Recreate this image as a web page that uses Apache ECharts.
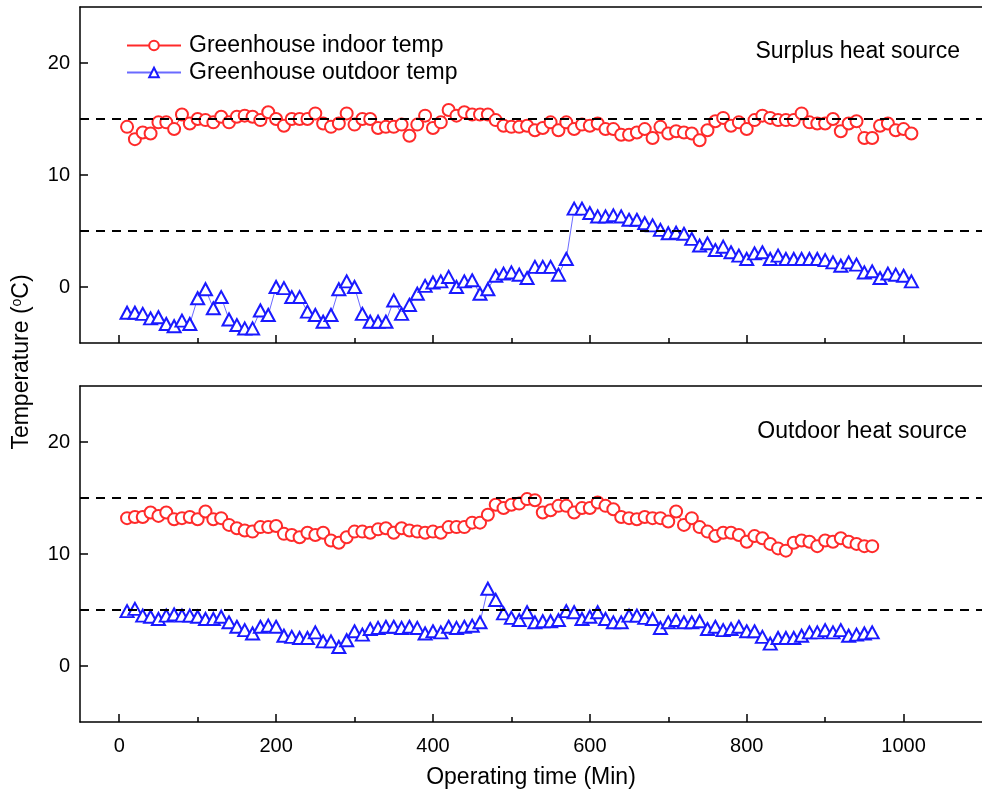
<!DOCTYPE html>
<html>
<head>
<meta charset="utf-8">
<script src="https://cdn.jsdelivr.net/npm/echarts@6/dist/echarts.min.js"></script>
<style>
  html, body { margin: 0; padding: 0; background: #fff; }
  #chart { width: 982px; height: 794px; }
</style>
</head>
<body>
<div id="chart"></div>
<script>
// operating time (min), one reading every 10 min
const timeMin = [
  10, 20, 30, 40, 50, 60, 70, 80, 90, 100, 110, 120, 130, 140, 150, 160, 170, 180, 190, 200,
  210, 220, 230, 240, 250, 260, 270, 280, 290, 300, 310, 320, 330, 340, 350, 360, 370, 380, 390, 400,
  410, 420, 430, 440, 450, 460, 470, 480, 490, 500, 510, 520, 530, 540, 550, 560, 570, 580, 590, 600,
  610, 620, 630, 640, 650, 660, 670, 680, 690, 700, 710, 720, 730, 740, 750, 760, 770, 780, 790, 800,
  810, 820, 830, 840, 850, 860, 870, 880, 890, 900, 910, 920, 930, 940, 950, 960, 970, 980, 990, 1000, 1010
]

// Surplus heat source panel
const surplusIndoor = [
  14.3, 13.2, 13.8, 13.7, 14.7, 14.7, 14.1, 15.4, 14.6, 15.0, 14.9, 14.7, 15.2, 14.7, 15.2, 15.3, 15.2, 14.9, 15.6, 15.0,
  14.4, 15.0, 15.0, 15.0, 15.5, 14.6, 14.3, 14.6, 15.5, 14.5, 15.0, 15.0, 14.2, 14.3, 14.3, 14.5, 13.5, 14.5, 15.3, 14.2,
  14.7, 15.8, 15.3, 15.6, 15.4, 15.4, 15.4, 14.9, 14.4, 14.3, 14.3, 14.4, 14.0, 14.2, 14.7, 14.0, 14.7, 14.1, 14.5, 14.4,
  14.6, 14.1, 14.1, 13.6, 13.6, 13.8, 14.1, 13.3, 14.3, 13.7, 13.9, 13.8, 13.7, 13.1, 14.0, 14.8, 15.1, 14.4, 14.7, 14.1,
  14.9, 15.3, 15.1, 14.9, 14.9, 14.9, 15.5, 14.7, 14.6, 14.6, 15.0, 13.9, 14.6, 14.8, 13.3, 13.3, 14.4, 14.6, 14.0, 14.1, 13.7
]
const surplusOutdoor = [
  -2.3, -2.3, -2.4, -2.8, -2.7, -3.3, -3.5, -3.0, -3.3, -1.0, -0.2, -1.9, -0.9, -2.9, -3.4, -3.7, -3.7, -2.1, -2.5, 0.0,
  -0.1, -0.9, -0.9, -2.2, -2.5, -3.1, -2.5, -0.2, 0.5, 0.0, -2.4, -3.1, -3.1, -3.1, -1.2, -2.4, -1.6, -0.6, 0.1, 0.4,
  0.5, 0.9, 0.0, 0.5, 0.6, -0.6, -0.2, 1.0, 1.2, 1.3, 1.1, 0.8, 1.8, 1.8, 1.8, 1.1, 2.5, 7.0, 7.0, 6.6,
  6.3, 6.3, 6.4, 6.3, 6.0, 6.0, 5.7, 5.5, 5.1, 4.8, 4.85, 4.75, 4.3, 3.7, 3.9, 3.3, 3.6, 3.1, 2.8, 2.5,
  3.0, 3.1, 2.5, 2.8, 2.5, 2.5, 2.5, 2.5, 2.5, 2.4, 2.2, 1.9, 2.2, 2.0, 1.3, 1.4, 0.8, 1.2, 1.1, 1.0, 0.5
]

// Outdoor heat source panel (10 .. 960 min)
const outdoorIndoor = [
  13.2, 13.3, 13.3, 13.7, 13.4, 13.7, 13.1, 13.2, 13.3, 13.1, 13.8, 13.1, 13.2, 12.6, 12.3, 12.1, 12.0, 12.4, 12.4, 12.5,
  11.8, 11.7, 11.5, 11.9, 11.7, 11.9, 11.2, 11.0, 11.5, 12.0, 12.0, 11.9, 12.2, 12.3, 11.9, 12.3, 12.1, 12.0, 11.9, 12.0,
  11.9, 12.4, 12.4, 12.4, 12.8, 12.8, 13.5, 14.4, 14.1, 14.4, 14.5, 14.9, 14.8, 13.7, 13.9, 14.3, 14.3, 13.7, 14.1, 14.1,
  14.6, 14.3, 14.0, 13.3, 13.2, 13.1, 13.3, 13.2, 13.2, 12.9, 13.8, 12.6, 13.2, 12.4, 12.0, 11.6, 11.9, 11.9, 11.7, 11.1,
  11.6, 11.4, 10.9, 10.5, 10.3, 11.0, 11.2, 11.1, 10.7, 11.2, 11.1, 11.4, 11.1, 10.9, 10.7, 10.7
]
const outdoorOutdoor = [
  4.9, 5.1, 4.5, 4.4, 4.2, 4.5, 4.6, 4.5, 4.5, 4.4, 4.2, 4.2, 4.4, 3.9, 3.5, 3.2, 2.9, 3.5, 3.6, 3.5,
  2.7, 2.6, 2.5, 2.5, 3.0, 2.2, 2.2, 1.7, 2.3, 3.1, 2.8, 3.3, 3.4, 3.5, 3.5, 3.4, 3.5, 3.4, 2.9, 3.1,
  3.0, 3.5, 3.4, 3.5, 3.6, 3.9, 6.9, 5.9, 4.7, 4.3, 4.1, 4.8, 3.9, 4.0, 4.0, 4.1, 4.9, 4.8, 4.2, 4.4,
  4.8, 4.2, 3.9, 3.9, 4.5, 4.5, 4.3, 4.2, 3.4, 3.9, 4.1, 3.9, 3.9, 4.0, 3.3, 3.5, 3.2, 3.3, 3.5, 3.1,
  3.1, 2.6, 2.0, 2.5, 2.5, 2.5, 2.7, 3.0, 3.0, 3.2, 3.0, 3.2, 2.7, 2.8, 2.9, 3.0
]

const refLines = [15, 5]
const xMajorTicks = [0, 200, 400, 600, 800, 1000]
const xMinorTicks = [100, 300, 500, 700, 900]
const yMajorTicks = [0, 10, 20]
const yMinorTicks = [5, 15]

const FONT = 'Liberation Sans, Arial, sans-serif'
const INDOOR_COLOR = '#ff2a2a'
const OUTDOOR_COLOR = '#1a1aff'

function pairs(values) {
  return values.map((v, i) => [timeMin[i], v])
}

// main x axis of a panel
function xMain(gridIndex, showLabel) {
  return {
    type: 'value', gridIndex, min: -50, max: 1100, position: 'bottom',
    axisLine: { show: true, onZero: false, lineStyle: { color: '#000', width: 1.5 } },
    axisTick: { show: true, inside: true, length: 8, customValues: xMajorTicks, lineStyle: { color: '#000', width: 1.5 } },
    axisLabel: { show: showLabel, customValues: xMajorTicks, formatter: v => String(v), color: '#000', fontSize: 20, fontFamily: FONT, margin: 14 },
    splitLine: { show: false },
    name: showLabel ? 'Operating time (Min)' : '',
    nameLocation: 'middle', nameGap: 44,
    nameTextStyle: { color: '#000', fontSize: 23, fontFamily: FONT }
  }
}
// short ticks between the labelled ones
function xMinor(gridIndex) {
  return {
    type: 'value', gridIndex, min: -50, max: 1100, position: 'bottom', offset: 0,
    axisLine: { show: false, onZero: false },
    axisTick: { show: true, inside: true, length: 5, customValues: xMinorTicks, lineStyle: { color: '#000', width: 1.5 } },
    axisLabel: { show: false }, splitLine: { show: false }
  }
}
function xTop(gridIndex) {
  return {
    type: 'value', gridIndex, min: -50, max: 1100, position: 'top',
    axisLine: { show: true, onZero: false, lineStyle: { color: '#000', width: 1.5 } },
    axisTick: { show: false }, axisLabel: { show: false }, splitLine: { show: false }
  }
}
function yMain(gridIndex) {
  return {
    type: 'value', gridIndex, min: -5, max: 25, position: 'left',
    axisLine: { show: true, onZero: false, lineStyle: { color: '#000', width: 1.5 } },
    axisTick: { show: true, inside: true, length: 8, customValues: yMajorTicks, lineStyle: { color: '#000', width: 1.5 } },
    axisLabel: { customValues: yMajorTicks, color: '#000', fontSize: 20, fontFamily: FONT, margin: 10 },
    splitLine: { show: false }
  }
}
function yMinor(gridIndex) {
  return {
    type: 'value', gridIndex, min: -5, max: 25, position: 'left', offset: 0,
    axisLine: { show: false, onZero: false },
    axisTick: { show: true, inside: true, length: 5, customValues: yMinorTicks, lineStyle: { color: '#000', width: 1.5 } },
    axisLabel: { show: false }, splitLine: { show: false }
  }
}

function indoorSeries(name, values, xi, yi) {
  return {
    name, type: 'line', xAxisIndex: xi, yAxisIndex: yi,
    data: pairs(values),
    symbol: 'emptyCircle', symbolSize: 12,
    itemStyle: { color: INDOOR_COLOR, borderWidth: 1.4 },
    lineStyle: { color: INDOOR_COLOR, width: 1 },
    markLine: {
      silent: true, symbol: 'none', label: { show: false },
      lineStyle: { color: '#000', type: [9, 7], width: 2 },
      data: refLines.map(v => ({ yAxis: v }))
    }
  }
}
function outdoorSeries(name, values, xi, yi) {
  return {
    name, type: 'line', xAxisIndex: xi, yAxisIndex: yi,
    data: pairs(values),
    symbol: 'emptyTriangle', symbolSize: [13, 12],
    itemStyle: { color: OUTDOOR_COLOR, borderWidth: 1.4 },
    lineStyle: { color: '#6a6aff', width: 1 }
  }
}

const chart = echarts.init(document.getElementById('chart'))
chart.setOption({
  animation: false,
  backgroundColor: '#fff',
  grid: [
    { left: 80, right: -10, top: 7, height: 336 },
    { left: 80, right: -10, top: 386, height: 336 }
  ],
  title: [
    { text: 'Surplus heat source', right: 17, top: 35, textStyle: { color: '#000', fontSize: 23, fontWeight: 'normal', fontFamily: FONT } },
    { text: 'Outdoor heat source', right: 10, top: 415, textStyle: { color: '#000', fontSize: 23, fontWeight: 'normal', fontFamily: FONT } }
  ],
  legend: {
    data: ['Greenhouse indoor temp', 'Greenhouse outdoor temp'],
    orient: 'vertical', left: 121, top: 29, itemGap: 4,
    itemWidth: 54, itemHeight: 12,
    textStyle: { color: '#000', fontSize: 23, fontFamily: FONT, padding: [0, 0, 0, 3] }
  },
  graphic: [{
    type: 'text', x: 22, y: 362, rotation: Math.PI / 2,
    style: {
      text: 'Temperature ({sup|o}C)',
      fill: '#000', font: '23px ' + FONT,
      align: 'center', verticalAlign: 'middle',
      rich: { sup: { fontSize: 14, fontFamily: FONT, padding: [0, 0, 10, 0] } }
    }
  }],
  xAxis: [xMain(0, false), xMinor(0), xTop(0), xMain(1, true), xMinor(1), xTop(1)],
  yAxis: [yMain(0), yMinor(0), yMain(1), yMinor(1)],
  series: [
    indoorSeries('Greenhouse indoor temp', surplusIndoor, 0, 0),
    outdoorSeries('Greenhouse outdoor temp', surplusOutdoor, 0, 0),
    indoorSeries('Greenhouse indoor temp', outdoorIndoor, 3, 2),
    outdoorSeries('Greenhouse outdoor temp', outdoorOutdoor, 3, 2)
  ]
})
</script>
</body>
</html>
